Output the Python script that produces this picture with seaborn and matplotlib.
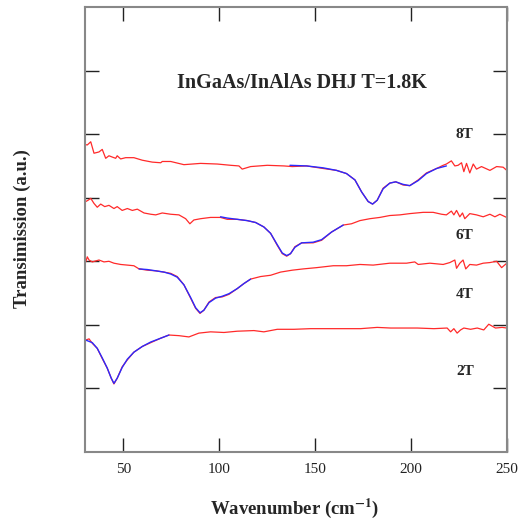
import numpy as np
import pandas as pd
import matplotlib
matplotlib.use("Agg")
import matplotlib.pyplot as plt
import seaborn as sns

# ── Data (wavenumber in cm^-1, offset transmission) ──
wn_2T = [30.4, 32.1, 33.8, 36.4, 39.0, 41.6, 43.7, 45.1, 46.8, 49.4, 52.1, 55.5,
         59.9, 64.3, 69.5, 73.8, 79.0, 84.2, 89.4, 95.5, 102.5, 109.4, 118.1,
         123.3, 130.3, 139.0, 147.7, 156.3, 165.0, 173.7, 182.4, 189.4, 196.3,
         203.3, 212.0, 218.9, 220.7, 222.4, 224.1, 225.9, 227.6, 231.1, 234.6,
         238.0, 240.6, 244.1, 247.6, 250.0]
tr_2T = [1.76, 1.78, 1.71, 1.63, 1.47, 1.32, 1.16, 1.07, 1.16, 1.34, 1.45, 1.57,
         1.66, 1.72, 1.79, 1.84, 1.83, 1.81, 1.87, 1.89, 1.88, 1.90, 1.91,
         1.89, 1.93, 1.93, 1.94, 1.94, 1.94, 1.94, 1.96, 1.95, 1.95,
         1.95, 1.94, 1.95, 1.89, 1.94, 1.87, 1.92, 1.95, 1.93, 1.95,
         1.92, 2.01, 1.95, 1.96, 1.95]

wn_4T = [30.4, 31.2, 32.1, 33.8, 37.3, 39.9, 42.5, 45.1, 48.6, 52.1, 55.5, 58.2,
         62.5, 66.9, 71.2, 74.7, 78.1, 81.6, 85.1, 87.7, 90.0, 92.0, 94.7, 98.1,
         101.6, 105.1, 109.4, 112.9, 116.4, 121.6, 126.8, 132.0, 138.1, 143.8,
         150.8, 159.5, 166.4, 173.4, 180.3, 189.0, 197.7, 202.0, 203.8, 209.9,
         216.8, 220.3, 222.9, 223.8, 225.5, 227.2, 228.6, 230.7, 234.2, 237.7,
         241.2, 244.7, 247.3, 250.0]
tr_4T = [2.99, 3.07, 3.02, 2.99, 3.02, 2.99, 3.00, 2.97, 2.95, 2.94, 2.93, 2.88,
         2.86, 2.85, 2.83, 2.81, 2.76, 2.63, 2.42, 2.26, 2.18, 2.23, 2.36, 2.43,
         2.44, 2.48, 2.57, 2.65, 2.72, 2.76, 2.78, 2.83, 2.86, 2.88,
         2.90, 2.93, 2.93, 2.95, 2.94, 2.97, 2.97, 2.99, 2.95, 2.97,
         2.95, 2.98, 3.02, 2.89, 2.97, 3.02, 2.88, 2.95, 2.94, 2.97,
         2.98, 3.00, 2.90, 2.97]

wn_6T = [30.4, 31.6, 33.0, 34.7, 36.4, 38.2, 40.3, 42.5, 45.1, 46.8, 49.4, 52.1,
         54.7, 57.3, 60.8, 64.3, 66.9, 70.3, 74.7, 79.0, 82.5, 84.7, 86.8, 90.3,
         95.5, 100.7, 104.2, 109.4, 114.6, 119.0, 123.3, 126.8, 130.3, 132.9,
         135.2, 137.2, 139.5, 143.0, 149.0, 153.4, 158.6, 164.7, 169.0, 173.4,
         178.6, 183.8, 189.0, 194.2, 199.4, 206.4, 211.6, 216.0, 218.5, 221.1,
         222.4, 223.8, 225.5, 226.9, 228.1, 230.7, 234.2, 237.7, 241.2, 243.8,
         246.4, 249.9]
tr_6T = [3.94, 3.96, 3.99, 3.91, 3.85, 3.90, 3.86, 3.88, 3.83, 3.86, 3.80, 3.83,
         3.80, 3.82, 3.76, 3.74, 3.73, 3.76, 3.74, 3.73, 3.67, 3.59, 3.65, 3.67,
         3.69, 3.69, 3.66, 3.66, 3.64, 3.61, 3.54, 3.44, 3.25, 3.12,
         3.08, 3.12, 3.23, 3.29, 3.29, 3.33, 3.46, 3.57, 3.59, 3.64,
         3.67, 3.69, 3.72, 3.73, 3.75, 3.77, 3.77, 3.74, 3.73, 3.79,
         3.73, 3.80, 3.70, 3.76, 3.67, 3.75, 3.73, 3.70, 3.74, 3.70,
         3.74, 3.69]

wn_8T = [29.5, 31.2, 33.0, 34.7, 37.3, 39.0, 40.8, 42.5, 44.2, 46.0, 46.8, 48.6,
         51.2, 55.5, 59.9, 65.1, 69.5, 70.3, 74.7, 81.6, 90.3, 99.0, 106.0,
         110.3, 112.0, 116.4, 125.1, 133.8, 138.1, 145.6, 154.2, 161.2, 166.4,
         170.8, 174.3, 177.7, 180.0, 182.4, 185.5, 189.0, 192.1, 195.9, 199.4,
         203.8, 208.1, 213.4, 216.8, 218.5, 221.1, 222.9, 224.6, 226.4, 227.6,
         229.0, 230.7, 232.5, 234.2, 236.8, 241.2, 244.7, 248.1, 250.0]
tr_8T = [4.84, 4.83, 4.88, 4.70, 4.72, 4.76, 4.62, 4.66, 4.64, 4.62, 4.66, 4.61,
         4.63, 4.63, 4.59, 4.56, 4.55, 4.57, 4.57, 4.52, 4.54, 4.53, 4.51,
         4.50, 4.45, 4.49, 4.51, 4.50, 4.49, 4.50, 4.46, 4.43, 4.38,
         4.28, 4.09, 3.94, 3.90, 3.96, 4.15, 4.23, 4.25, 4.20, 4.19,
         4.28, 4.39, 4.46, 4.51, 4.53, 4.58, 4.50, 4.51, 4.55, 4.41,
         4.54, 4.39, 4.53, 4.45, 4.49, 4.43, 4.49, 4.48, 4.43]

# fitted curves (blue) over the absorption dips
fit_wn_2T = [30.4, 33.8, 36.4, 39.0, 41.6, 43.7, 45.1, 46.8, 49.4, 52.1, 55.5, 59.9, 64.3, 69.5, 73.8]
fit_tr_2T = [1.76, 1.72, 1.63, 1.48, 1.32, 1.16, 1.08, 1.16, 1.33, 1.46, 1.57, 1.66, 1.73, 1.79, 1.84]
fit_wn_4T = [58.2, 62.5, 66.9, 71.2, 74.7, 78.1, 81.6, 85.1, 87.7, 90.0, 92.0, 94.7,
             98.1, 101.6, 105.1, 109.4, 112.9, 116.4]
fit_tr_4T = [2.88, 2.87, 2.85, 2.83, 2.80, 2.75, 2.63, 2.43, 2.27, 2.19, 2.23, 2.35,
             2.42, 2.45, 2.49, 2.57, 2.65, 2.72]
fit_wn_6T = [100.7, 104.2, 109.4, 114.6, 119.0, 123.3, 126.8, 130.3, 132.9, 135.2,
             137.2, 139.5, 143.0, 149.0, 153.4, 158.6, 164.7]
fit_tr_6T = [3.70, 3.68, 3.66, 3.64, 3.61, 3.54, 3.44, 3.26, 3.13, 3.09,
             3.12, 3.22, 3.29, 3.30, 3.34, 3.46, 3.57]
fit_wn_8T = [136.9, 145.6, 154.2, 161.2, 166.4, 170.8, 174.3, 177.7, 180.0, 182.4,
             185.5, 189.0, 192.1, 195.9, 199.4, 203.8, 208.1, 213.4, 218.5]
fit_tr_8T = [4.51, 4.50, 4.47, 4.43, 4.38, 4.28, 4.09, 3.94, 3.90, 3.96,
             4.14, 4.23, 4.25, 4.21, 4.19, 4.27, 4.38, 4.46, 4.50]

labels = ["2T", "4T", "6T", "8T"]
label_x = [228.1, 228.1, 228.1, 228.1]
label_y = [1.26, 2.47, 3.41, 5.0]

y_ticks = [1, 2, 3, 4, 5, 6]
x_ticks = [50, 100, 150, 200, 250]

# ── Long-format tables for seaborn ───────────────────────────────────────────
meas = pd.concat([
    pd.DataFrame({"wn": wn_2T, "tr": tr_2T, "field": "2T"}),
    pd.DataFrame({"wn": wn_4T, "tr": tr_4T, "field": "4T"}),
    pd.DataFrame({"wn": wn_6T, "tr": tr_6T, "field": "6T"}),
    pd.DataFrame({"wn": wn_8T, "tr": tr_8T, "field": "8T"}),
])
fits = pd.concat([
    pd.DataFrame({"wn": fit_wn_2T, "tr": fit_tr_2T, "field": "2T"}),
    pd.DataFrame({"wn": fit_wn_4T, "tr": fit_tr_4T, "field": "4T"}),
    pd.DataFrame({"wn": fit_wn_6T, "tr": fit_tr_6T, "field": "6T"}),
    pd.DataFrame({"wn": fit_wn_8T, "tr": fit_tr_8T, "field": "8T"}),
])

sns.set_theme(style="ticks")
plt.rcParams.update({
    "font.family": ["Liberation Serif", "DejaVu Serif"],
    "mathtext.fontset": "stix",
    "xtick.direction": "in",
    "ytick.direction": "in",
    "xtick.major.size": 10,
    "ytick.major.size": 10,
    "xtick.major.width": 1.0,
    "ytick.major.width": 1.0,
    "xtick.color": "#222222",
    "ytick.color": "#222222",
})

fig = plt.figure(figsize=(5.23, 5.20), dpi=100)
ax = fig.add_axes([0.1625, 0.1308, 0.8065, 0.8557])

sns.lineplot(data=meas, x="wn", y="tr", units="field", estimator=None,
             color="#ff2a2a", linewidth=0.9, sort=False, ax=ax)
sns.lineplot(data=fits, x="wn", y="tr", units="field", estimator=None,
             color="#2a2aff", linewidth=1.0, sort=False, ax=ax)

ax.set_xlim(30, 250)
ax.set_ylim(0, 7)
ax.set_xticks(x_ticks)
ax.set_yticks(y_ticks)
ax.set_yticklabels([])
ax.tick_params(top=True, right=True, labelsize=11, pad=8)
for s in ax.spines.values():
    s.set_color("#888888")
    s.set_linewidth(1.5)

for lab, lx, ly in zip(labels, label_x, label_y):
    ax.text(lx, ly, lab, ha="center", va="center", fontsize=11, fontweight="bold")

ax.text(143.1, 5.80, "InGaAs/InAlAs DHJ T=1.8K", ha="center", va="center",
        fontsize=14.5, fontweight="bold")

ax.set_xlabel(r"Wavenumber (cm$^{\mathbf{-1}}$)", fontsize=13.5, fontweight="bold")
ax.set_ylabel("Transimission (a.u.)", fontsize=13.5, fontweight="bold")
ax.xaxis.set_label_coords(0.498, -0.126)
ax.yaxis.set_label_coords(-0.149, 0.501)
ax.xaxis.label.set_va("center")
ax.yaxis.label.set_va("center")

fig.savefig("out.png", dpi=100)
